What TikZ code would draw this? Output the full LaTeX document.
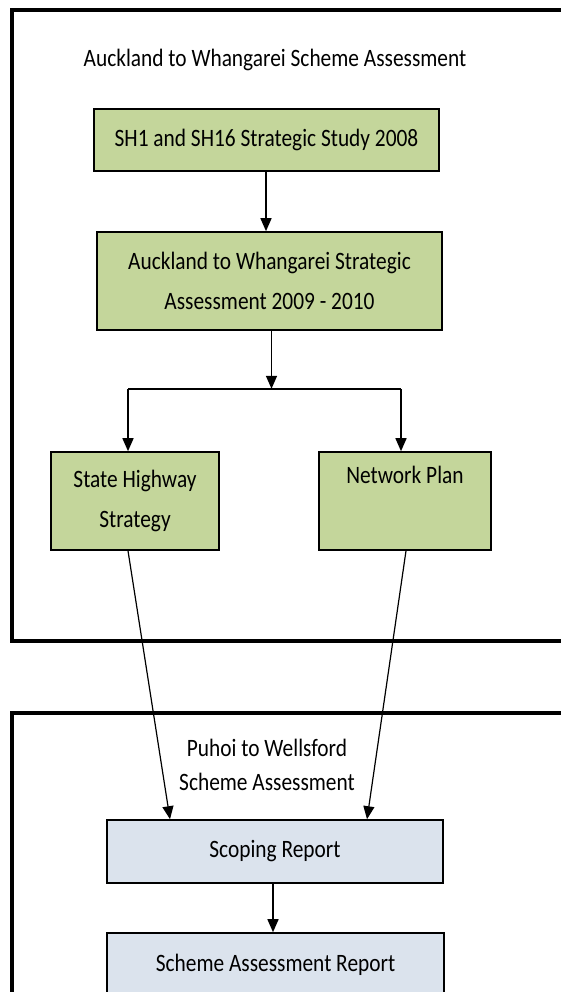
\documentclass[tikz,border=0pt]{standalone}
\usepackage{fontspec}
\setmainfont{Carlito}[FakeStretch=0.855]
\usetikzlibrary{arrows.meta,calc}

\definecolor{boxgreen}{RGB}{196,214,155}
\definecolor{boxblue}{RGB}{219,227,237}

\tikzset{
  frame/.style={draw, line width=4.5pt},
  greenbox/.style={draw, line width=1.6pt, fill=boxgreen, align=center, inner sep=0pt,
                   font=\fontsize{25}{40}\selectfont},
  bluebox/.style={draw, line width=1.6pt, fill=boxblue, align=center, inner sep=0pt,
                  font=\fontsize{25}{34}\selectfont},
  flow/.style={line width=1.5pt, -{Triangle[length=13pt,width=11pt]}},
  thinflow/.style={line width=1.2pt, -{Triangle[length=13pt,width=11pt]}},
}

\begin{document}
\begin{tikzpicture}[x=1pt,y=-1pt]
  \useasboundingbox (0,0) rectangle (561,992);
  \clip (0,0) rectangle (561,992);

  % outer frames
  \draw[frame] (12,10) rectangle (590,641);
  \draw[frame] (12,713) rectangle (590,1020);

  % upper part
  \node (title) at (275,60) {\fontsize{25}{30}\selectfont Auckland to Whangarei Scheme Assessment};
  \node[greenbox, minimum width=345pt, minimum height=62pt] (sh1) at (266.5,140)
    {SH1 and SH16 Strategic Study 2008};
  \node[greenbox, minimum width=345pt, minimum height=98pt] (atw) at (269.5,281)
    {Auckland to Whangarei Strategic\\Assessment 2009 - 2010};
  \node[greenbox, minimum width=168pt, minimum height=98pt] (shs) at (135,501)
    {State Highway\\Strategy};
  \node[greenbox, minimum width=172pt, minimum height=98pt] (np) at (405,501)
    {Network Plan\\\strut};

  \coordinate (split) at ($(atw.south)+(2,58)$);
  \coordinate (jl) at (split -| 128,0);
  \coordinate (jr) at (split -| 401,0);

  \draw[flow] (sh1.south -| 266,0) -- (atw.north -| 266,0);
  \draw[flow] (atw.south -| split) -- (split);
  \draw[line width=1.5pt] (jl) -- (jr);
  \draw[flow] (jl) -- (jl |- shs.north);
  \draw[flow] (jr) -- (jr |- np.north);

  % lower part
  \node[align=center, font=\fontsize{25}{34}\selectfont] (p2w) at (267,765)
    {Puhoi to Wellsford\\Scheme Assessment};
  \node[bluebox, minimum width=336pt, minimum height=63pt] (scop) at (275,851.5)
    {Scoping Report};
  \node[bluebox, minimum width=337pt, minimum height=64pt] (sar) at (275.5,965)
    {Scheme Assessment Report};

  \draw[thinflow] ($(shs.south)+(-7,0)$) -- ($(scop.north)+(-105,0)$);
  \draw[thinflow] ($(np.south)+(1,0)$) -- ($(scop.north)+(92,0)$);
  \draw[flow] (scop.south -| 273,0) -- (sar.north -| 273,0);
\end{tikzpicture}
\end{document}
